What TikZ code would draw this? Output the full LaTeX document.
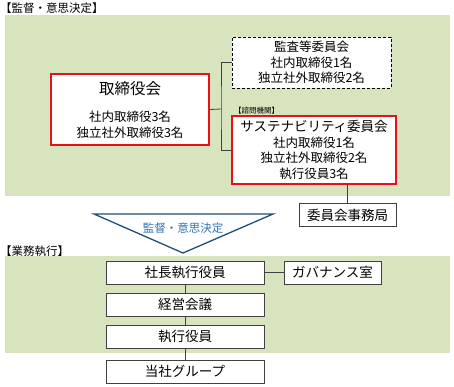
\documentclass[tikz,border=0pt]{standalone}
\usepackage{fontspec}
\setmainfont{Noto Sans CJK JP}
\usepackage{xcolor}
\usetikzlibrary{positioning}

\definecolor{bandgreen}{HTML}{D7E4BD}
\definecolor{boardred}{HTML}{E8101A}
\definecolor{linegray}{HTML}{404040}
\definecolor{tridark}{HTML}{1F4E79}
\definecolor{triblue}{HTML}{2E75B6}

\begin{document}
\begin{tikzpicture}[
    x=1pt, y=-1pt,
    redbox/.style={
        draw=boardred,
        line width=1.8pt,
        fill=white,
        align=center,
        inner sep=2pt,
        font=\fontsize{12.5}{15.5}\selectfont
    },
    dashbox/.style={
        draw=black,
        dash pattern=on 3pt off 2pt,
        line width=0.8pt,
        fill=white,
        align=center,
        inner sep=2pt,
        minimum width=159pt,
        minimum height=51pt,
        font=\fontsize{12.5}{15.5}\selectfont
    },
    plainbox/.style={
        draw=linegray,
        line width=0.8pt,
        fill=white,
        align=center,
        inner sep=2pt,
        minimum height=23pt,
        font=\fontsize{13.5}{15}\selectfont
    },
    link/.style={
        draw=linegray,
        line width=0.8pt
    },
    heading/.style={
        anchor=west,
        inner sep=0pt,
        font=\fontsize{11.5}{13}\selectfont
    }
]

\useasboundingbox (0,0) rectangle (454,386);

% Green bands
\fill[bandgreen] (5,15) rectangle (450,196);
\fill[bandgreen] (5,256) rectangle (450,353);

\node[heading] (topttl) at (0,8) {【監督・意思決定】};
\node[heading] (botttl) at (0,251) {【業務執行】};

% Board and committees
\node[redbox, minimum width=158pt, minimum height=71pt] (board) at (130,109.5)
{{\fontsize{15.5}{18}\selectfont 取締役会}\\[12pt]
社内取締役3名\\
独立社外取締役3名};

\node[dashbox] (audit) at (311.5,62.5)
{監査等委員会\\
社内取締役1名\\
独立社外取締役2名};

\node[redbox, minimum width=164pt, minimum height=68pt] (sust) at (314,150)
{{\fontsize{13.5}{16}\selectfont サステナビリティ委員会}\\
社内取締役1名\\
独立社外取締役2名\\
執行役員3名};

\node[anchor=south west, inner sep=0pt, font=\fontsize{7.5}{8}\selectfont]
    (advis) at (234,114) {【諮問機関】};

\node[plainbox, minimum width=97pt] (office) at (347.5,215) {委員会事務局};

\coordinate (junc) at (221,109);
\draw[link] (board.east) -- (junc);
\draw[link] (audit.west) -| (junc) |- (sust.west);
\draw[link] (office.north) -- (office.north |- sust.south);

% Triangle
\draw[tridark, line width=1.3pt, fill=white]
    (94,214) -- (273,214) -- (183,253) -- cycle;
\node[text=triblue, font=\fontsize{11.5}{13}\selectfont] (tritext) at (183,228) {監督・意思決定};

% Execution
\node[plainbox, minimum width=158pt] (ceo) at (185,272.5) {社長執行役員};
\node[plainbox, minimum width=97pt] (gov) at (332.5,272.5) {ガバナンス室};
\node[plainbox, minimum width=158pt] (mgmt) at (185,304.5) {経営会議};
\node[plainbox, minimum width=158pt] (exec) at (185,336.5) {執行役員};
\node[plainbox, minimum width=158pt] (group) at (185,371.5) {当社グループ};

\draw[link] (ceo.east) -- (gov.west);
\draw[link] (ceo.south) -- (mgmt.north);
\draw[link] (mgmt.south) -- (exec.north);
\draw[link] (exec.south) -- (group.north);

\end{tikzpicture}
\end{document}
